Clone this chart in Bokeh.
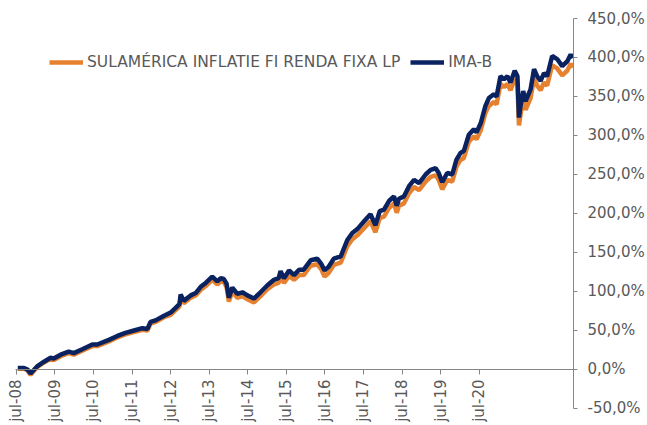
import math
from bokeh.plotting import figure
from bokeh.models import Range1d, FixedTicker, Legend, LegendItem
from bokeh.embed import file_html
from bokeh.resources import INLINE

years = [2008.54, 2008.70, 2008.79, 2008.87, 2008.95, 2009.04, 2009.22, 2009.39, 2009.47, 2009.65,
         2009.86, 2009.99, 2010.21, 2010.47, 2010.60, 2010.90, 2011.12, 2011.33, 2011.55, 2011.77,
         2011.90, 2011.98, 2012.11, 2012.33, 2012.50, 2012.63, 2012.73, 2012.76, 2012.84, 2013.02,
         2013.15, 2013.28, 2013.41, 2013.58, 2013.71, 2013.80, 2013.88, 2013.95, 2014.01, 2014.10,
         2014.23, 2014.36, 2014.49, 2014.66, 2014.83, 2015.01, 2015.18, 2015.30, 2015.35, 2015.44,
         2015.57, 2015.70, 2015.83, 2015.95, 2016.13, 2016.30, 2016.41, 2016.49, 2016.60, 2016.73,
         2016.91, 2017.08, 2017.21, 2017.34, 2017.55, 2017.68, 2017.81, 2017.92, 2018.03, 2018.16,
         2018.29, 2018.36, 2018.42, 2018.55, 2018.68, 2018.81, 2018.94, 2019.11, 2019.24, 2019.37,
         2019.45, 2019.54, 2019.67, 2019.80, 2019.91, 2020.02, 2020.10, 2020.23, 2020.36, 2020.43,
         2020.54, 2020.66, 2020.75, 2020.88, 2020.95, 2021.05, 2021.14, 2021.23, 2021.31, 2021.42,
         2021.49, 2021.53, 2021.57, 2021.64, 2021.70, 2021.83, 2021.92, 2022.00, 2022.09, 2022.18,
         2022.26, 2022.39, 2022.52, 2022.65, 2022.78, 2022.87, 2022.92]

ima_b = [2, 2, 0, -5, -1, 4, 10, 15, 14, 19,
         23, 21, 26, 32, 32, 38, 43, 47, 50, 53,
         52, 61, 63, 69, 73, 79, 84, 96, 88, 95,
         98, 106, 111, 119, 113, 117, 116, 110, 92, 105,
         97, 99, 95, 91, 99, 108, 115, 117, 126, 117,
         127, 121, 128, 128, 140, 142, 135, 127, 132, 142,
         145, 166, 175, 180, 192, 199, 185, 203, 205, 216,
         222, 210, 219, 222, 235, 243, 239, 250, 256, 258,
         252, 240, 252, 250, 269, 278, 280, 301, 308, 304,
         316, 338, 348, 353, 350, 376, 372, 376, 368, 383,
         376, 323, 338, 357, 344, 359, 385, 376, 370, 380,
         376, 402, 398, 389, 395, 404, 399]

sulamerica = [1, 1, -1, -7, -2, 3, 9, 14, 12, 17,
              21, 19, 24, 30, 30, 36, 41, 45, 48, 51,
              50, 59, 61, 67, 70, 76, 81, 92, 85, 92,
              95, 102, 107, 115, 109, 113, 112, 106, 87, 100,
              92, 94, 90, 86, 94, 103, 109, 111, 119, 111,
              120, 115, 121, 121, 133, 135, 128, 119, 124, 134,
              137, 158, 167, 172, 183, 190, 176, 194, 196, 207,
              213, 201, 210, 213, 226, 234, 230, 241, 247, 249,
              243, 231, 243, 241, 260, 269, 271, 292, 299, 295,
              307, 329, 338, 343, 340, 366, 362, 366, 358, 372,
              365, 313, 327, 346, 333, 348, 373, 364, 358, 368,
              364, 390, 386, 377, 383, 392, 387]

x_tick_pos = [2008.5, 2009.5, 2010.5, 2011.5, 2012.5, 2013.5, 2014.5,
              2015.5, 2016.5, 2017.5, 2018.5, 2019.5, 2020.5]
x_tick_labels = ["jul-08", "jul-09", "jul-10", "jul-11", "jul-12", "jul-13", "jul-14",
                 "jul-15", "jul-16", "jul-17", "jul-18", "jul-19", "jul-20"]
y_tick_pos = [-50, 0, 50, 100, 150, 200, 250, 300, 350, 400, 450]
y_tick_labels = ["-50,0%", "0,0%", "50,0%", "100,0%", "150,0%", "200,0%",
                 "250,0%", "300,0%", "350,0%", "400,0%", "450,0%"]

TEXT = "#595959"
AXIS = "#868686"
FONT = "DejaVu Sans"

p = figure(width=647, height=425, output_backend="svg", toolbar_location=None,
           x_range=Range1d(2008.091, 2022.943), y_range=Range1d(-71.8, 450),
           y_axis_location="right", x_axis_location="below",
           min_border_left=0, min_border_right=74, min_border_top=18, min_border_bottom=0)
p.outline_line_color = None
p.grid.visible = False
p.background_fill_color = "white"

r_or = p.line(years, sulamerica, line_color="#E6822F", line_width=4.5)
r_bl = p.line(years, ima_b, line_color="#0A2260", line_width=4.5)

xa = p.xaxis[0]
xa.fixed_location = 0
xa.bounds = (2008.48, 2022.943)
xa.ticker = FixedTicker(ticks=x_tick_pos)
xa.major_label_overrides = dict(zip(x_tick_pos, x_tick_labels))
xa.major_label_orientation = math.pi / 2
xa.minor_tick_line_color = None
xa.major_tick_in = 0
xa.major_tick_out = 5
xa.major_label_standoff = 5
xa.axis_line_color = AXIS
xa.major_tick_line_color = AXIS
xa.major_label_text_font = FONT
xa.major_label_text_font_size = "15px"
xa.major_label_text_color = TEXT

ya = p.yaxis[0]
ya.bounds = (-50, 450)
ya.ticker = FixedTicker(ticks=y_tick_pos)
ya.major_label_overrides = dict(zip(y_tick_pos, y_tick_labels))
ya.minor_tick_line_color = None
ya.major_tick_in = 0
ya.major_tick_out = 4
ya.major_label_standoff = 10
ya.axis_line_color = AXIS
ya.major_tick_line_color = AXIS
ya.major_label_text_font = FONT
ya.major_label_text_font_size = "15px"
ya.major_label_text_color = TEXT

legend = Legend(items=[LegendItem(label="SULAMÉRICA INFLATIE FI RENDA FIXA LP", renderers=[r_or]),
                       LegendItem(label="IMA-B", renderers=[r_bl])],
                orientation="horizontal", location=(49, 353),
                glyph_width=34, glyph_height=20, label_height=20, label_standoff=4,
                spacing=10, padding=0, margin=0,
                background_fill_alpha=0, border_line_alpha=0,
                label_text_font=FONT, label_text_font_size="15.5px", label_text_color=TEXT)
p.add_layout(legend)

open("out.html", "w").write(file_html(p, INLINE))
